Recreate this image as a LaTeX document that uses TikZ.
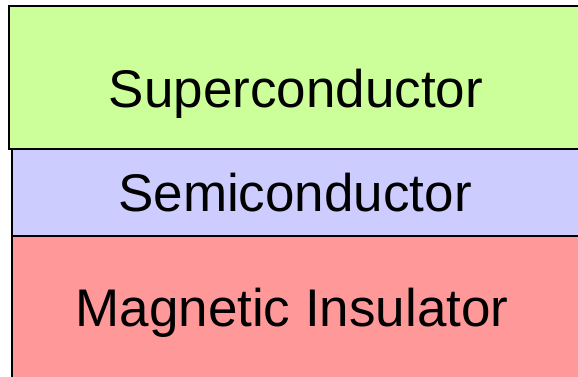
\documentclass[tikz,border=0pt]{standalone}
\usepackage{fontspec}
\setmainfont{Liberation Sans}
\definecolor{scgreen}{HTML}{CCFF99}
\definecolor{semiblue}{HTML}{CCCCFF}
\definecolor{magred}{HTML}{FF9999}
\tikzset{
    layer/.style={draw=black, line width=1.3pt},
    layername/.style={anchor=base, inner sep=0pt, font=\fontsize{53}{63}\selectfont},
}
\begin{document}
\begin{tikzpicture}[x=1pt, y=-1pt]
\clip (0,0) rectangle (578,377);
% layers, top to bottom
\draw[layer, fill=scgreen] (9,6) rectangle (600,149);
\draw[layer, fill=semiblue] (12,149.5) rectangle (600,236);
\draw[layer, fill=magred] (12,236) rectangle (600,400);
% layer names
\node[layername] (sc) at (296,108) {Superconductor};
\node[layername] (semi) at (295,211.5) {Semiconductor};
\node[layername] (mi) at (292,326) {Magnetic Insulator};
\end{tikzpicture}
\end{document}
